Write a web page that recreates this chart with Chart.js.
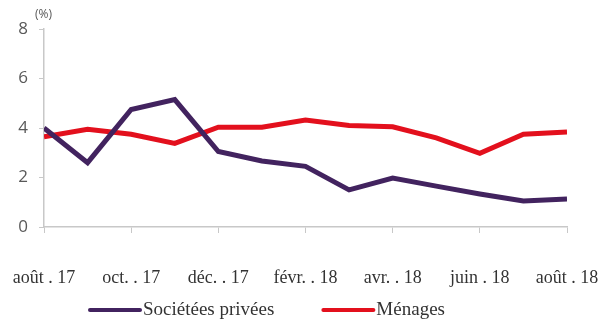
<!DOCTYPE html>
<html>
<head>
<meta charset="utf-8">
<script src="https://cdn.jsdelivr.net/npm/chart.js@4"></script>
<style>
    html, body { margin: 0; padding: 0; background: #fff; }
    #wrap { width: 602px; height: 324px; }
</style>
</head>
<body>
<div id="wrap"><canvas id="graph"></canvas></div>
<script>
// mois (août 17 -> août 18), un libellé sur deux affiché
const mois = ['août . 17', 'sept. . 17', 'oct. . 17', 'nov. . 17', 'déc. . 17', 'janv. . 18', 'févr. . 18',
    'mars . 18', 'avr. . 18', 'mai . 18', 'juin . 18', 'juil. . 18', 'août . 18'];
const societes = [4.0, 2.6, 4.75, 5.15, 3.05, 2.67, 2.45, 1.5, 1.98, 1.65, 1.33, 1.05, 1.13];
const menages = [3.65, 3.95, 3.75, 3.38, 4.03, 4.03, 4.32, 4.1, 4.05, 3.6, 2.98, 3.75, 3.84];
const ticksY = [0, 2, 4, 6, 8];

const violet = '#42235f';
const rouge = '#e3101d';
const gris = '#c8c8c8';

function points(serie) {
    let res = [];
    for (let i = 0; i < serie.length; i++) {
        res[i] = { x: i, y: serie[i] };
    }
    return res;
}

// "(%)" au dessus de l'axe + légende dessinée à la main (espacement du modèle)
const extras = {
    id: 'extras',
    afterDraw(chart) {
        const c = chart.ctx;
        const ca = chart.chartArea;
        c.save();
        c.font = '12px "Open Sans"';
        c.fillStyle = '#595959';
        c.textAlign = 'left';
        c.textBaseline = 'middle';
        c.fillText('(%)', ca.left - 9, ca.top - 14);

        c.font = '19px "Liberation Serif"';
        c.fillStyle = '#333';
        let x = ca.left + 46;
        const y = 310;
        chart.data.datasets.forEach(function (ds) {
            c.strokeStyle = ds.borderColor;
            c.lineWidth = 4;
            c.lineCap = 'round';
            c.beginPath();
            c.moveTo(x, y);
            c.lineTo(x + 50, y);
            c.stroke();
            c.fillText(ds.label, x + 53, y);
            x += 53 + c.measureText(ds.label).width + 49;
        });
        c.restore();
    }
};

const ctx = document.getElementById('graph').getContext('2d');
const graph = new Chart(ctx, {
    type: 'line',
    data: {
        datasets: [{
            label: 'Sociétées privées',
            data: points(societes),
            borderColor: violet,
            backgroundColor: violet,
            borderWidth: 5,
            pointRadius: 0,
            tension: 0
        }, {
            label: 'Ménages',
            data: points(menages),
            borderColor: rouge,
            backgroundColor: rouge,
            borderWidth: 5,
            pointRadius: 0,
            tension: 0
        }]
    },
    options: {
        responsive: true,
        maintainAspectRatio: false,
        animation: false,
        layout: { padding: { left: 0, right: 35, top: 29, bottom: 37 } },
        plugins: {
            tooltip: { enabled: false },
            legend: { display: false }
        },
        scales: {
            x: {
                type: 'linear',
                min: 0,
                max: mois.length - 1,
                afterFit: function (s) {
                    s.height = 60;
                    s.paddingLeft = 0;
                    s.paddingRight = 0;
                },
                ticks: {
                    stepSize: 2,
                    padding: 34,
                    maxRotation: 0,
                    autoSkip: false,
                    color: '#333',
                    font: { family: '"Liberation Serif"', size: 18 },
                    callback: function (v) { return mois[v]; }
                },
                grid: { drawOnChartArea: false, color: gris, tickLength: 6 },
                border: { color: gris, width: 1.5 }
            },
            y: {
                min: 0,
                max: 8,
                afterFit: function (s) {
                    s.width = 44;
                    s.paddingTop = 0;
                    s.paddingBottom = 0;
                },
                afterBuildTicks: function (s) {
                    s.ticks = ticksY.map(function (v) { return { value: v }; });
                },
                ticks: {
                    padding: 11,
                    color: '#595959',
                    font: { family: '"Open Sans"', size: 17 }
                },
                grid: { drawOnChartArea: false, color: gris, tickLength: 5 },
                border: { color: gris, width: 1.5 }
            }
        }
    },
    plugins: [extras]
});
</script>
</body>
</html>
